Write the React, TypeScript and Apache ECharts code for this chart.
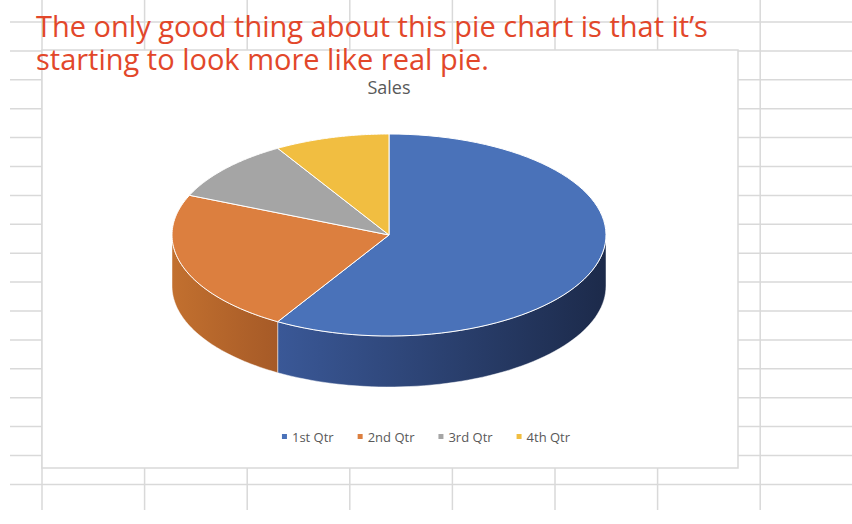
import { useEffect, useRef } from "react";
import * as echarts from "echarts";

const categories = ["1st Qtr", "2nd Qtr", "3rd Qtr", "4th Qtr"];
const sales = [8.2, 3.2, 1.4, 1.2];
const topColors = ["#4a72b9", "#dc7f3f", "#a5a5a5", "#f1be41"];
const sideColors: [string, string][] = [
  ["#3a5897", "#1c2a4a"],
  ["#c2702f", "#a65a27"],
  ["#8a8a8a", "#777777"],
  ["#c99a2e", "#b08628"],
];

const CX = 389, CY = 235, RX = 217, RY = 101, DEPTH = 51;

const pt = (a: number, dy = 0) => [CX + RX * Math.sin(a), CY - RY * Math.cos(a) + dy];

export default function App() {
  const ref = useRef<HTMLDivElement>(null);

  useEffect(() => {
    if (!ref.current) return;
    const chart = echarts.init(ref.current, null, { renderer: "svg" });
    const total = sales.reduce((s, v) => s + v, 0);
    const starts: number[] = [];
    let acc = 0;
    sales.forEach((v) => { starts.push((acc / total) * Math.PI * 2); acc += v; });

    const grid: any[] = [];
    for (let i = 0; i < 17; i++) {
      const y = 22 + i * 28.9;
      grid.push({ type: "line", shape: { x1: 10, y1: y, x2: 852, y2: y }, style: { stroke: "#d9d9d9", lineWidth: 1.5 }, z: -10 });
    }
    for (let i = 0; i < 8; i++) {
      const x = 42 + i * 102.6;
      grid.push({ type: "line", shape: { x1: x, y1: 0, x2: x, y2: 510 }, style: { stroke: "#d9d9d9", lineWidth: 1.5 }, z: -10 });
    }

    chart.setOption({
      animation: false,
      graphic: [
        ...grid,
        { type: "rect", shape: { x: 42, y: 50, width: 696, height: 418 }, style: { fill: "#fff", stroke: "#d9d9d9", lineWidth: 1.5 }, z: -5 },
        { type: "text", x: 389, y: 87, style: { text: "Sales", fill: "#595959", font: "18px 'Open Sans'", align: "center", verticalAlign: "middle" }, z: 5 },
        { type: "text", x: 36, y: 9, style: { text: "The only good thing about this pie chart is that it\u2019s\nstarting to look more like real pie.", fill: "#e2472a", font: "29px 'Open Sans'", lineHeight: 33 }, z: 5 },
      ],
      legend: {
        top: 425, left: "center",
        icon: "rect", itemWidth: 5, itemHeight: 5, itemGap: 24,
        textStyle: { color: "#595959", fontSize: 13, fontFamily: "Open Sans" },
        data: categories,
      },
      series: [
        ...categories.map((c, i) => ({
          type: "pie", name: c, data: [], showEmptyCircle: false, color: topColors[i],
        })),
        {
          type: "custom",
          coordinateSystem: "none",
          silent: true,
          data: sales.map((v, i) => ({ name: categories[i], value: v })),
          renderItem: (params: any) => {
            const i = params.dataIndex;
            const a0 = starts[i];
            const a1 = i + 1 < starts.length ? starts[i + 1] : Math.PI * 2;
            const children: any[] = [];
            // front wall, visible between 90deg and 270deg
            const w0 = Math.max(a0, Math.PI / 2), w1 = Math.min(a1, Math.PI * 1.5);
            if (w1 > w0) {
              const top: number[][] = [], bot: number[][] = [];
              for (let k = 0; k <= 60; k++) {
                const a = w0 + ((w1 - w0) * k) / 60;
                top.push(pt(a));
                bot.push(pt(a, DEPTH));
              }
              children.push({
                type: "polygon",
                shape: { points: [...top, ...bot.reverse()] },
                style: {
                  fill: new echarts.graphic.LinearGradient(0, 0, 1, 0, [
                    { offset: 0, color: sideColors[i][0] },
                    { offset: 1, color: sideColors[i][1] },
                  ]),
                  stroke: "rgba(255,255,255,0.6)", lineWidth: 0.8,
                },
              });
            }
            const pts: number[][] = [[CX, CY]];
            for (let k = 0; k <= 80; k++) pts.push(pt(a0 + ((a1 - a0) * k) / 80));
            children.push({
              type: "polygon",
              shape: { points: pts },
              style: { fill: topColors[i], stroke: "#ffffff", lineWidth: 1 },
            });
            return { type: "group", children };
          },
        },
      ],
    });
    return () => chart.dispose();
  }, []);

  return <div ref={ref} style={{ position: "absolute", left: 0, top: 0, width: 852, height: 524 }} />;
}
